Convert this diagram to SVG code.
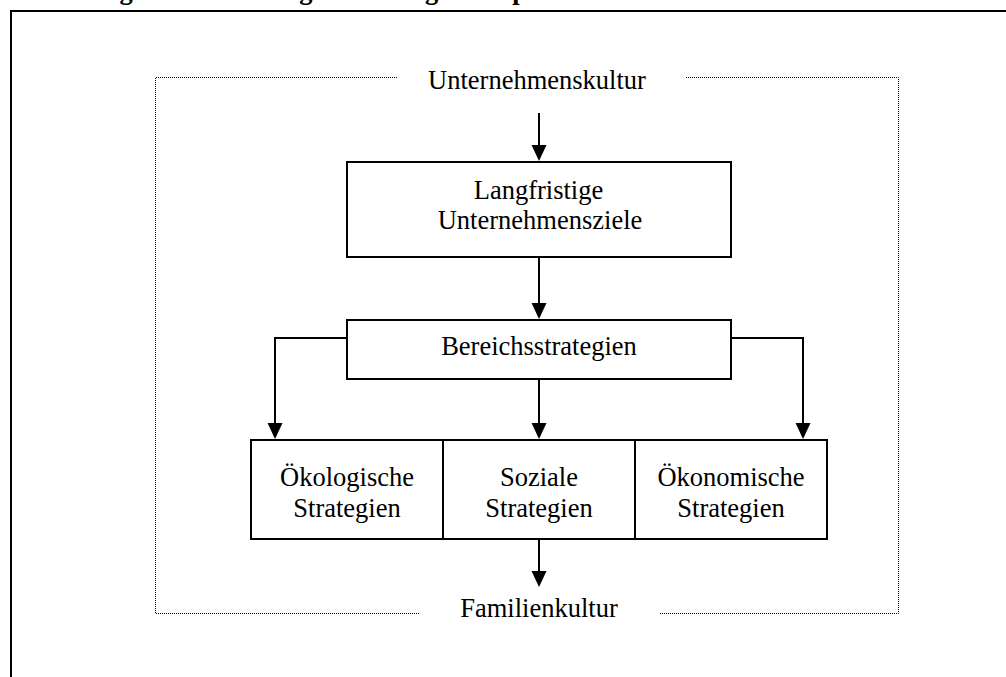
<svg xmlns="http://www.w3.org/2000/svg" width="1006" height="677" viewBox="0 0 1006 677">
  <defs>
    <style>
      .lbl { font-family: "Liberation Serif", "Times New Roman", serif; font-size: 26.5px; fill: #000; text-anchor: middle; }
      .title { font-family: "Liberation Serif", "Times New Roman", serif; font-size: 26.5px; font-weight: bold; fill: #000; }
      .box { fill: #fff; stroke: #000; stroke-width: 2; }
      .conn { fill: none; stroke: #000; stroke-width: 2; }
      .dotted { fill: none; stroke: #000; stroke-width: 1; stroke-dasharray: 1 1; }
      .frame { fill: none; stroke: #000; stroke-width: 2; }
    </style>
    <marker id="arrow" markerUnits="userSpaceOnUse" markerWidth="16" markerHeight="16" refX="6" refY="7.5" orient="auto">
      <path d="M0,0 L16,7.5 L0,15 z" fill="#000"/>
    </marker>
  </defs>

  <rect width="1006" height="677" fill="#fff"/>

  <!-- caption line, running above the page edge -->
  <text class="title" x="12" y="-1.5">Abbildung 4: Entwicklung nachhaltiger Zielpolitik im Familienunternehmen</text>

  <!-- page frame -->
  <path class="frame" d="M11,678 V11 H1007"/>

  <!-- dotted culture frame -->
  <g id="culture-frame">
    <path class="dotted" d="M397,77.5 H155.5 V613.5 H420"/>
    <path class="dotted" d="M686,77.5 H898.5 V613.5 H659"/>
    <text id="unternehmenskultur" class="lbl" x="537" y="89">Unternehmenskultur</text>
    <text id="familienkultur" class="lbl" x="539" y="617">Familienkultur</text>
  </g>

  <!-- connectors -->
  <g id="connectors">
    <path class="conn" d="M539,113 V151" marker-end="url(#arrow)"/>
    <path class="conn" d="M539,257 V309" marker-end="url(#arrow)"/>
    <path class="conn" d="M347,338 H275 V429" marker-end="url(#arrow)"/>
    <path class="conn" d="M731,338 H803 V429" marker-end="url(#arrow)"/>
    <path class="conn" d="M539,379 V429" marker-end="url(#arrow)"/>
    <path class="conn" d="M539,539 V577" marker-end="url(#arrow)"/>
  </g>

  <g id="ziele">
    <rect class="box" x="347" y="162" width="384" height="95"/>
    <text class="lbl" x="538.5" y="198.5">Langfristige</text>
    <text class="lbl" x="540" y="229">Unternehmensziele</text>
  </g>

  <g id="bereichsstrategien">
    <rect class="box" x="347" y="320" width="384" height="59"/>
    <text class="lbl" x="539" y="355">Bereichsstrategien</text>
  </g>

  <g id="oekologisch">
    <rect class="box" x="251" y="440" width="192" height="99"/>
    <text class="lbl" x="347" y="486">Ökologische</text>
    <text class="lbl" x="347" y="517">Strategien</text>
  </g>

  <g id="sozial">
    <rect class="box" x="443" y="440" width="192" height="99"/>
    <text class="lbl" x="539" y="486">Soziale</text>
    <text class="lbl" x="539" y="517">Strategien</text>
  </g>

  <g id="oekonomisch">
    <rect class="box" x="635" y="440" width="192" height="99"/>
    <text class="lbl" x="731" y="486">Ökonomische</text>
    <text class="lbl" x="731" y="517">Strategien</text>
  </g>
</svg>
